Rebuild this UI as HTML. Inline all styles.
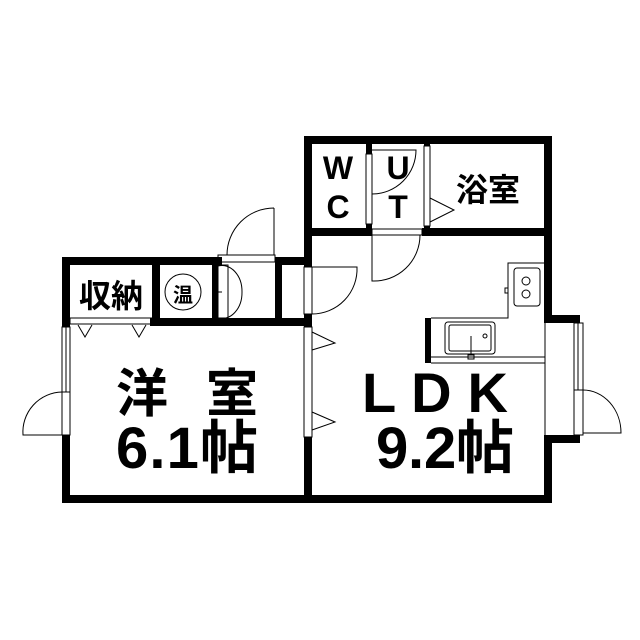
<!DOCTYPE html>
<html><head><meta charset="utf-8"><style>body{margin:0;background:#fff}svg{display:block}</style></head><body>
<svg width="640" height="640" viewBox="0 0 640 640" xmlns="http://www.w3.org/2000/svg">
<g fill="#000">
<rect x="304" y="136" width="248" height="8"/>
<rect x="304" y="136" width="8" height="128"/>
<rect x="544" y="136" width="8" height="100"/>
<rect x="366" y="136" width="6" height="18"/>
<rect x="366" y="224" width="6" height="12"/>
<rect x="424" y="136" width="6" height="10"/>
<rect x="424" y="226" width="6" height="10"/>
<rect x="304" y="228" width="68" height="8"/>
<rect x="422" y="228" width="130" height="8"/>
<rect x="544" y="236" width="8" height="87"/>
<rect x="544" y="315" width="36" height="8"/>
<rect x="544" y="435" width="36" height="8"/>
<rect x="544" y="435" width="8" height="68"/>
<rect x="62" y="495" width="490" height="8"/>
<rect x="62" y="257" width="8" height="70"/>
<rect x="62" y="435" width="8" height="68"/>
<rect x="62" y="257" width="160" height="8"/>
<rect x="275" y="257" width="37" height="8"/>
<rect x="152" y="257" width="8" height="68"/>
<rect x="275" y="257" width="7" height="68"/>
<rect x="150" y="318" width="162" height="8"/>
<rect x="304" y="257" width="8" height="10"/>
<rect x="304" y="314" width="8" height="13"/>
<rect x="304" y="437" width="8" height="66"/>
<rect x="212" y="257" width="6" height="68"/>
<rect x="425" y="318" width="6" height="45"/>
</g>
<g fill="none" stroke="#000" stroke-width="1">
<rect x="70" y="318" width="82" height="6"/>
<path d="M78 325 L85 337 L92 325 M132 325 L139 337 L146 325"/>
<rect x="62" y="327" width="8" height="65"/><line x1="66" y1="327" x2="66" y2="392"/>
<rect x="62" y="392" width="8" height="43"/>
<path d="M62 392 A40 40 0 0 0 23 435 L62 435"/>
<rect x="304" y="327" width="8" height="110"/>
<path d="M312 332 L335 343 L312 350 M312 412 L335 422 L312 430"/>
<rect x="304" y="267" width="8" height="47"/>
<path d="M312 267 L357 267 A45 45 0 0 1 312 314"/>
<rect x="218" y="255" width="57" height="7"/>
<path d="M274 208 L274 255 M274 208 A47 47 0 0 0 227 255"/>
<rect x="218" y="265" width="10" height="53"/>
<path d="M218 266 A20 26 0 0 1 242 292 M218 318 A20 26 0 0 0 242 292 M218 292 L222 292"/>
<rect x="366" y="154" width="6" height="70"/>
<path d="M372 150 L416 150 A44 44 0 0 1 372 194"/>
<rect x="424" y="146" width="6" height="80"/>
<path d="M430 198 L454 210 L430 222"/>
<rect x="372" y="229" width="50" height="6"/>
<path d="M372 235 L372 281 A46 46 0 0 0 420 235"/>
<path d="M431 318 L508 318 L508 263 L545 263 M431 363 L545 363 M431 357 L545 357"/>
<rect x="514" y="268" width="26" height="38" rx="3"/>
<circle cx="526" cy="281" r="4"/><circle cx="526" cy="294" r="4"/>
<rect x="505" y="288" width="3" height="5"/>
<rect x="445" y="322" width="50" height="32" rx="3"/><rect x="449" y="325" width="42" height="26" rx="2"/>
<line x1="471" y1="336" x2="471" y2="355"/><circle cx="485" cy="336" r="2"/>
<rect x="468" y="355" width="6" height="4"/>
<line x1="545" y1="323" x2="545" y2="435"/>
<rect x="574" y="323" width="9" height="67"/><line x1="578" y1="323" x2="578" y2="390"/>
<rect x="574" y="390" width="9" height="45"/>
<path d="M583 390 A38 43 0 0 1 621 433 L583 433"/>
<circle cx="183" cy="292" r="18"/>
</g>
<g font-family="'Liberation Sans','Noto Sans CJK JP',sans-serif" fill="#000" text-anchor="middle" font-weight="bold">
<text x="338" y="179" font-size="32">W</text>
<text x="338" y="218" font-size="32">C</text>
<text x="398" y="179" font-size="32">U</text>
<text x="398" y="218" font-size="32">T</text>
<text x="488" y="201" font-size="32">浴室</text>
<text x="111" y="307" font-size="32">収納</text>
<text x="183" y="302" font-size="20">温</text>
</g>
<g font-family="'Liberation Sans','Noto Sans CJK JP',sans-serif" fill="#000" font-weight="bold">
<text x="116" y="412" font-size="52" textLength="142" lengthAdjust="spacing">洋 室</text>
<text x="116" y="468" font-size="58" textLength="142" lengthAdjust="spacing">6.1帖</text>
<text x="362" y="412" font-size="56" textLength="146" lengthAdjust="spacing">L D K</text>
<text x="376" y="468" font-size="58" textLength="138" lengthAdjust="spacing">9.2帖</text>
</g>
</svg>
</body></html>
